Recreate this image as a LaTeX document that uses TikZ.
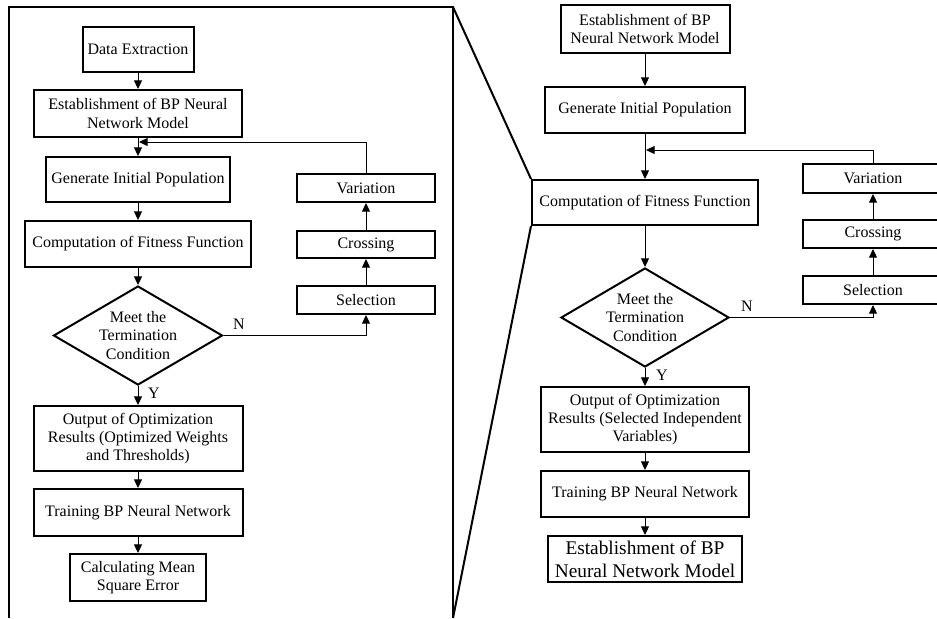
\documentclass[tikz,border=0pt]{standalone}
\usepackage{fontspec}
\setmainfont{Liberation Serif}
\usetikzlibrary{arrows.meta,shapes.geometric}
\tikzset{
  bx/.style={draw, line width=1.5pt, inner sep=1pt, align=center, font=\fontsize{12}{13.8}\selectfont},
  dia/.style={draw, diamond, line width=1.5pt, inner sep=0pt},
  lbl/.style={inner sep=0pt, align=center, font=\fontsize{12}{14.2}\selectfont},
  arr/.style={line width=0.75pt, -{Triangle[length=6.5pt,width=6pt]}},
  frm/.style={line width=1.5pt},
}
\begin{document}
\begin{tikzpicture}[x=0.75pt,y=-0.75pt]
\useasboundingbox (0,0) rectangle (937,618);
\clip (0,0) rectangle (937,618);
% frame coordinates
\coordinate (fbl) at (9,618);
\coordinate (ftl) at (9,7);
\coordinate (ftr) at (453,7);
\coordinate (fbr) at (453,618);
% ---------- left panel ----------
\node[bx, minimum width=83.25pt, minimum height=33.75pt] (de) at (138,49.5) {Data Extraction};
\node[bx, minimum width=156pt, minimum height=35.25pt] (est1) at (138,113.5) {Establishment of BP Neural\\Network Model};
\node[bx, minimum width=138pt, minimum height=33.75pt] (gen1) at (138,179.5) {Generate Initial Population};
\node[bx, minimum width=169.5pt, minimum height=34.5pt] (fit1) at (138,244) {Computation of Fitness Function};
\node[dia, minimum width=126.75pt, minimum height=74.25pt] (dia1) at (138,335.5) {};
\node[lbl] (dt1) at (dia1.center) {Meet the\\Termination\\Condition};
\node[bx, minimum width=156.75pt, minimum height=48.75pt] (out1) at (138,438.5) {Output of Optimization\\Results (Optimized Weights\\and Thresholds)};
\node[bx, minimum width=156.75pt, minimum height=35.25pt] (tr1) at (138,512.5) {Training BP Neural Network};
\node[bx, minimum width=102pt, minimum height=35.25pt] (calc1) at (138,577.5) {Calculating Mean\\Square Error};
\node[bx, minimum width=103.5pt, minimum height=21pt] (var1) at (366,188) {Variation};
\node[bx, minimum width=103.5pt, minimum height=20.25pt] (cro1) at (366,244.5) {Crossing};
\node[bx, minimum width=103.5pt, minimum height=21pt] (sel1) at (366,300) {Selection};
\coordinate (j1) at (139,142);
\coordinate (n1) at (366,335.5);
\node[lbl] (N1) at (239,324) {N};
\node[lbl] (Y1) at (154,393) {Y};
\draw[arr] (de) -- (est1);
\draw[arr] (est1) -- (gen1);
\draw[arr] (gen1) -- (fit1);
\draw[arr] (fit1) -- (dia1);
\draw[arr] (dia1) -- (out1);
\draw[arr] (out1) -- (tr1);
\draw[arr] (tr1) -- (calc1);
\draw[arr] (dia1.east) -- (n1) -- (sel1.south);
\draw[arr] (sel1) -- (cro1);
\draw[arr] (cro1) -- (var1);
\draw[arr] (var1.north) |- (j1);
% ---------- right panel ----------
\node[bx, minimum width=126.75pt, minimum height=36pt] (est2) at (645,29) {Establishment of BP\\Neural Network Model};
\node[bx, minimum width=150pt, minimum height=34.5pt] (gen2) at (645,110) {Generate Initial Population};
\node[bx, minimum width=169.5pt, minimum height=33.75pt] (fit2) at (645,202.5) {Computation of Fitness Function};
\node[dia, minimum width=126pt, minimum height=74.25pt] (dia2) at (645,317.5) {};
\node[lbl] (dt2) at (dia2.center) {Meet the\\Termination\\Condition};
\node[bx, minimum width=156pt, minimum height=48.75pt] (out2) at (645,419.5) {Output of Optimization\\Results (Selected Independent\\Variables)};
\node[bx, minimum width=156pt, minimum height=34.5pt] (tr2) at (645,494) {Training BP Neural Network};
\node[bx, minimum width=145.5pt, minimum height=34.5pt, font=\fontsize{14.5}{17.3}\selectfont] (fin2) at (645,559) {Establishment of BP\\Neural Network Model};
\node[bx, minimum width=105pt, minimum height=21.75pt] (var2) at (873,178.5) {Variation};
\node[bx, minimum width=105pt, minimum height=21pt] (cro2) at (873,234) {Crossing};
\node[bx, minimum width=105pt, minimum height=21pt] (sel2) at (873,290) {Selection};
\coordinate (j2) at (646,150);
\coordinate (n2) at (873,317.5);
\node[lbl] (N2) at (747,306) {N};
\node[lbl] (Y2) at (662,375) {Y};
\draw[arr] (est2) -- (gen2);
\draw[arr] (gen2) -- (fit2);
\draw[arr] (fit2) -- (dia2);
\draw[arr] (dia2) -- (out2);
\draw[arr] (out2) -- (tr2);
\draw[arr] (tr2) -- (fin2);
\draw[arr] (dia2.east) -- (n2) -- (sel2.south);
\draw[arr] (sel2) -- (cro2);
\draw[arr] (cro2) -- (var2);
\draw[arr] (var2.north) |- (j2);
% ---------- frame and zoom lines ----------
\draw[frm] (fbl) -- (ftl) -- (ftr) -- (fbr);
\draw[frm] (ftr) -- (fit2.north west);
\draw[frm] (fit2.south west) -- (fbr);
\end{tikzpicture}
\end{document}
